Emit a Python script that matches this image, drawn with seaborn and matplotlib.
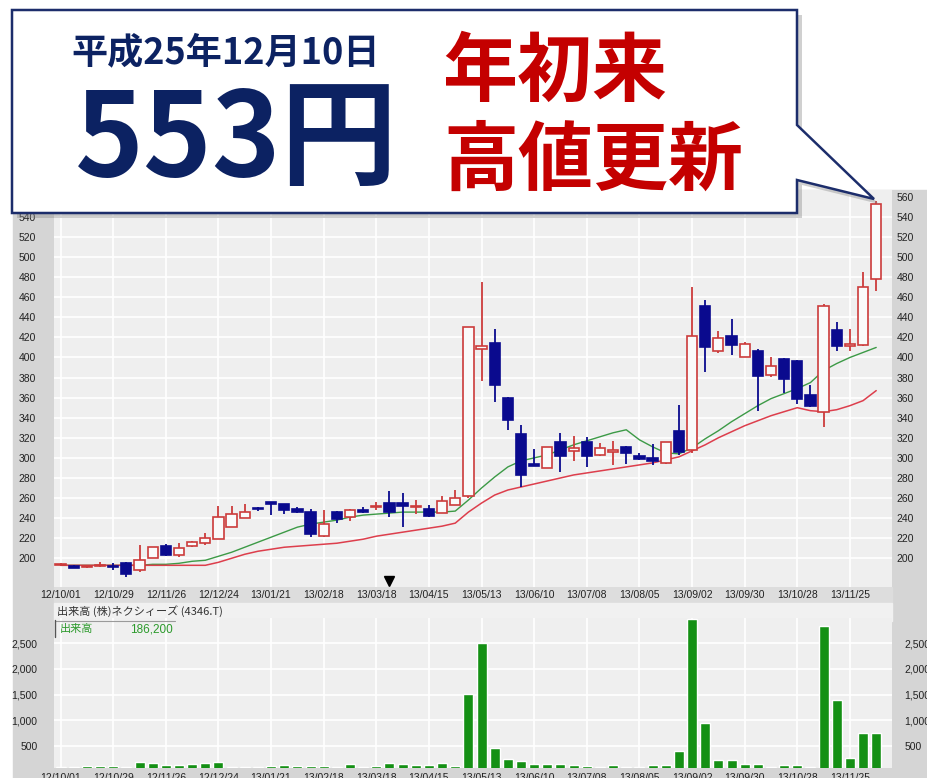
import numpy as np
import pandas as pd
import seaborn as sns
import matplotlib.pyplot as plt
from matplotlib.patches import Polygon, Rectangle

# weekly candles, 12/10/01 .. 13/12/09
weeks = list(range(63))
opens = [193, 192, 191, 192, 192, 195, 188, 200, 212, 203, 212, 215, 219, 231, 240, 250,
         256, 254, 249, 246, 222, 246, 241, 248, 251, 255, 255, 251, 249, 245, 253, 262,
         408, 414, 360, 324, 294, 290, 316, 307, 316, 303, 306, 311, 302, 300, 295, 327,
         308, 451, 406, 421, 400, 406, 383, 398, 396, 363, 346, 427, 411, 412, 478]
highs = [195, 193, 192, 196, 195, 196, 213, 211, 214, 215, 217, 225, 252, 252, 254, 251,
         256, 254, 251, 249, 248, 247, 249, 251, 256, 267, 265, 258, 253, 262, 268, 430,
         475, 428, 361, 333, 309, 311, 325, 322, 321, 315, 317, 312, 305, 314, 316, 353,
         470, 457, 426, 438, 415, 408, 400, 399, 397, 373, 453, 435, 428, 485, 556]
lows = [192, 190, 190, 191, 188, 181, 186, 200, 202, 201, 211, 213, 219, 231, 240, 247,
        243, 244, 245, 221, 221, 235, 237, 245, 248, 241, 231, 244, 241, 245, 253, 260,
        377, 356, 328, 271, 292, 290, 286, 297, 291, 302, 293, 294, 298, 293, 294, 303,
        305, 386, 404, 402, 400, 347, 381, 365, 354, 351, 331, 406, 406, 411, 466]
closes = [194, 190, 191, 192, 191, 184, 198, 211, 203, 210, 216, 220, 241, 244, 246, 249,
          254, 248, 246, 224, 234, 239, 248, 246, 252, 246, 252, 252, 242, 257, 260, 430,
          411, 373, 338, 283, 292, 311, 302, 310, 302, 310, 308, 305, 299, 297, 316, 306,
          421, 410, 419, 412, 413, 382, 392, 379, 359, 352, 451, 411, 413, 470, 553]
ma13 = [193, 193, 193, 193, 193, 193, 193, 194, 194, 195, 197, 198, 202, 206, 211, 216,
        221, 226, 231, 234, 236, 238, 241, 243, 244, 245, 246, 246, 246, 246, 247, 258,
        270, 281, 291, 297, 300, 303, 308, 313, 317, 321, 325, 328, 318, 311, 305, 304,
        310, 319, 327, 336, 344, 352, 359, 364, 369, 375, 387, 394, 400, 405, 410]
ma26 = [193, 193, 193, 193, 193, 193, 193, 193, 193, 193, 193, 193, 196, 200, 204, 207,
        209, 211, 212, 213, 214, 215, 217, 219, 222, 224, 226, 228, 230, 232, 235, 246,
        255, 263, 268, 271, 274, 277, 280, 283, 285, 287, 289, 291, 293, 295, 298, 301,
        307, 313, 320, 326, 332, 337, 342, 346, 350, 347, 346, 348, 352, 357, 367]
volume = [90, 90, 120, 120, 120, 100, 180, 160, 140, 140, 150, 170, 180, 100, 100, 100,
          120, 140, 120, 120, 120, 100, 150, 100, 120, 170, 150, 140, 140, 170, 110, 1520,
          2500, 455, 240, 208, 156, 144, 144, 125, 105, 92, 137, 92, 85, 125, 125, 403,
          2968, 955, 225, 225, 157, 157, 85, 137, 137, 92, 2844, 1396, 260, 747, 747]
date_labels = ["12/10/01", "12/10/29", "12/11/26", "12/12/24", "13/01/21", "13/02/18",
               "13/03/18", "13/04/15", "13/05/13", "13/06/10", "13/07/08", "13/08/05",
               "13/09/02", "13/09/30", "13/10/28", "13/11/25"]
date_ticks = list(range(0, 61, 4))
price_ticks_left = list(range(200, 541, 20))
price_ticks_right = list(range(200, 561, 20))
vol_ticks = [500, 1000, 1500, 2000, 2500]
vol_tick_labels = ["500", "1,000", "1,500", "2,000", "2,500"]
marker_week = 25

sns.set_theme(style="darkgrid", rc={"axes.facecolor": "#efefef", "grid.color": "white"})
plt.rcParams['font.family'] = ['Liberation Sans', 'Noto Sans CJK JP', 'DejaVu Sans']
cjk = ['Noto Sans CJK JP', 'DejaVu Sans']

W, H = 928, 778
fig = plt.figure(figsize=(W / 100, H / 100), dpi=100, facecolor="white")

def box(l, t, r, b):
    return [l / W, 1 - b / H, (r - l) / W, (b - t) / H]

# background strips
bg = fig.add_axes([0, 0, 1, 1])
bg.set_zorder(-5)
bg.set_xlim(0, W)
bg.set_ylim(H, 0)
bg.axis("off")
bg.add_patch(Rectangle((13, 190), W - 13, H - 190, color="#d5d5d5"))
bg.add_patch(Rectangle((54, 587), 838, 16, color="#dddddd"))
bg.add_patch(Rectangle((54, 603), 838, 18, color="#f1f1f1"))

up_col = "#cc3b3b"
dn_col = "#0a0a8e"
tick_kw = dict(labelsize=7.5, labelcolor="#222222", length=0)

# price panel
ax = fig.add_axes(box(54, 190, 892, 587))
df = pd.DataFrame(dict(week=weeks, open=opens, high=highs, low=lows, close=closes))
df["body"] = np.maximum((df.close - df.open).abs(), 1.3)
df["base"] = np.minimum(df.open, df.close)
up = df.close >= df.open
for mask, col, fill in [(up, up_col, "#fafafa"), (~up, dn_col, dn_col)]:
    d = df[mask]
    ax.vlines(d.week, d.low, d.high, color=col, lw=1.3, zorder=3)
    ax.bar(d.week, d.body, bottom=d.base, width=0.78, facecolor=fill,
           edgecolor=col, lw=1.2, zorder=4)
sns.lineplot(x=weeks, y=ma13, color="#3c9a46", lw=1.0, ax=ax, zorder=2.5)
sns.lineplot(x=weeks, y=ma26, color="#dd3e4c", lw=1.1, ax=ax, zorder=2.5)
ax.plot(marker_week, 177.5, marker="v", color="black", ms=7, zorder=5, clip_on=False)
ax.set_xlim(-0.5, 63.2)
ax.set_ylim(171.4, 566.8)
ax.set_xticks(date_ticks)
ax.set_xticklabels(date_labels)
ax.set_yticks(price_ticks_left)
ax.tick_params(axis="x", pad=2, **tick_kw)
ax.tick_params(axis="y", pad=13, **tick_kw)
ax.grid(True, color="white", lw=1.2)
for s in ax.spines.values():
    s.set_visible(False)
ax_r = ax.twinx()
ax_r.set_ylim(ax.get_ylim())
ax_r.set_yticks(price_ticks_right)
ax_r.tick_params(axis="y", pad=3.5, **tick_kw)
ax_r.grid(False)
for s in ax_r.spines.values():
    s.set_visible(False)

# volume panel (zero sits just below the panel edge, as in the source)
av = fig.add_axes(box(54, 618, 892, 768))
sns.barplot(x=weeks, y=volume, native_scale=True, color="#149014", saturation=1,
            width=0.76, errorbar=None, ax=av, zorder=3)
av.set_xlim(-0.5, 63.2)
av.set_ylim(72, 2993)
av.set_xticks(date_ticks)
av.set_xticklabels(date_labels)
av.set_yticks(vol_ticks)
av.set_yticklabels(vol_tick_labels)
av.set_xlabel("")
av.set_ylabel("")
av.tick_params(axis="x", pad=3.5, **tick_kw)
av.tick_params(axis="y", pad=12, **tick_kw)
av.grid(True, color="white", lw=1.2)
for s in av.spines.values():
    s.set_visible(False)
av_r = av.twinx()
av_r.set_ylim(av.get_ylim())
av_r.set_yticks(vol_ticks)
av_r.set_yticklabels(vol_tick_labels)
av_r.tick_params(axis="y", pad=9, **tick_kw)
av_r.grid(False)
for s in av_r.spines.values():
    s.set_visible(False)

# overlay: callout and panel captions
ov = fig.add_axes([0, 0, 1, 1])
ov.set_zorder(10)
ov.set_xlim(0, W)
ov.set_ylim(H, 0)
ov.axis("off")
ov.patch.set_alpha(0)

ov.text(57, 611, "出来高 (株)ネクシィーズ (4346.T)", family=cjk, fontsize=8,
        color="#333333", va="center", ha="left")
ov.plot([55, 175], [620.5, 620.5], color="#9a9a9a", lw=0.8)
ov.plot([55.5, 55.5], [620, 637], color="#555555", lw=1.0)
ov.text(60, 629, "出来高", family=cjk, fontsize=8, color="#2c9a2c", va="center")
ov.text(173, 629, "186,200", fontsize=8.5, color="#2c9a2c", va="center", ha="right")

callout = [(12, 10), (797, 10), (797, 125), (874, 199), (797, 180), (797, 213), (12, 213)]
shadow = [(x + 5, y + 5) for x, y in callout]
ov.add_patch(Polygon(shadow, closed=True, facecolor="#8a8a8a", edgecolor="none", alpha=0.4))
ov.add_patch(Polygon(callout, closed=True, facecolor="white", edgecolor="#1c2d6b", lw=1.8))

navy = "#0c2262"
red = "#c40000"
ov.text(226, 53, "平成25年12月10日", family=cjk, fontsize=26, fontweight="bold",
        color=navy, ha="center", va="center")
ov.text(236, 142, "553円", family=cjk, fontsize=84, fontweight="bold",
        color=navy, ha="center", va="center")
ov.text(555, 73, "年初来", family=cjk, fontsize=54, fontweight="bold",
        color=red, ha="center", va="center")
ov.text(593, 162, "高値更新", family=cjk, fontsize=54, fontweight="bold",
        color=red, ha="center", va="center")

fig.savefig("out.png", dpi=100, facecolor="white")
